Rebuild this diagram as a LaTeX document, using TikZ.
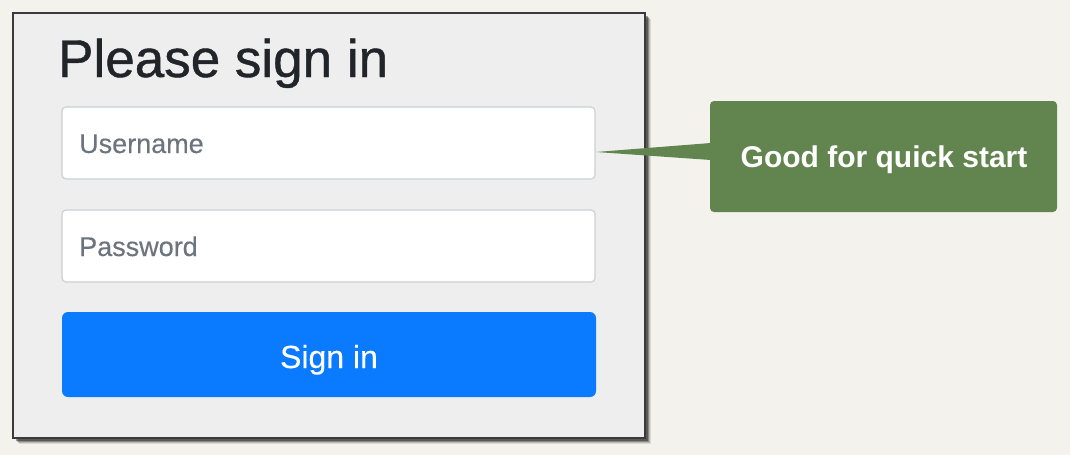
\documentclass[tikz,border=0pt]{standalone}
\usepackage{fontspec}
\setmainfont{Liberation Sans}
\newfontfamily\titlefont[FakeBold=0.8]{Liberation Sans}
\newfontfamily\placefont[FakeBold=0.3]{Liberation Sans}
\usetikzlibrary{calc}
\definecolor{bgc}{HTML}{F4F2EC}
\definecolor{panelc}{HTML}{EEEEEE}
\definecolor{panelborder}{HTML}{3A3A3A}
\definecolor{inputborder}{HTML}{CCD0D4}
\definecolor{btnc}{HTML}{0A7BFF}
\definecolor{calloutc}{HTML}{62854F}
\definecolor{titlec}{HTML}{212529}
\definecolor{placec}{HTML}{6C757D}
\tikzset{
  inputbox/.style={draw=inputborder, line width=1.2pt, fill=white, rounded corners=4pt,
    minimum width=533pt, minimum height=72pt, inner sep=0pt},
  placetext/.style={anchor=base west, inner sep=0pt, text=placec, font=\placefont\fontsize{27}{30}\selectfont},
}
\begin{document}
\begin{tikzpicture}[x=1pt,y=-1pt]
\fill[bgc] (0,0) rectangle (1070,455);
\useasboundingbox (0,0) rectangle (1070,455);
% shadow
\foreach \o/\op in {6/0.10,5/0.15,4/0.25,3/0.35}
  \fill[black, opacity=\op] (13+\o,13+\o) rectangle (645+\o,438+\o);
% panel
\node[draw=panelborder, line width=1.2pt, fill=panelc, minimum width=632pt, minimum height=425pt, inner sep=0pt] (panel) at (329,225.5) {};
\node[anchor=base west, inner sep=0pt, text=titlec, font=\titlefont\fontsize{53}{60}\selectfont] (title) at (58,77) {Please sign in};
\node[inputbox] (user) at (328.5,143) {};
\node[placetext] (usertext) at (79,153) {Username};
\node[inputbox] (pass) at (328.5,246) {};
\node[placetext] (passtext) at (79,256) {Password};
\node[fill=btnc, rounded corners=6pt, minimum width=534pt, minimum height=85pt, inner sep=0pt] (btn) at (329,354.5) {};
\node[anchor=base, inner sep=0pt, text=white, font=\placefont\fontsize{32}{36}\selectfont] (btntext) at (329,368) {Sign in};
% callout
\node[fill=calloutc, rounded corners=4pt, minimum width=347pt, minimum height=111pt, inner sep=0pt] (callout) at (883.5,156.5) {};
\coordinate (tip) at (596,152);
\fill[calloutc] (tip) -- ($(callout.west)+(1,-13.5)$) -- ($(callout.west)+(1,3.5)$) -- cycle;
\node[anchor=base, inner sep=0pt, text=white, font=\bfseries\fontsize{30}{34}\selectfont] (callouttext) at (884,167) {Good for quick start};
\end{tikzpicture}
\end{document}
